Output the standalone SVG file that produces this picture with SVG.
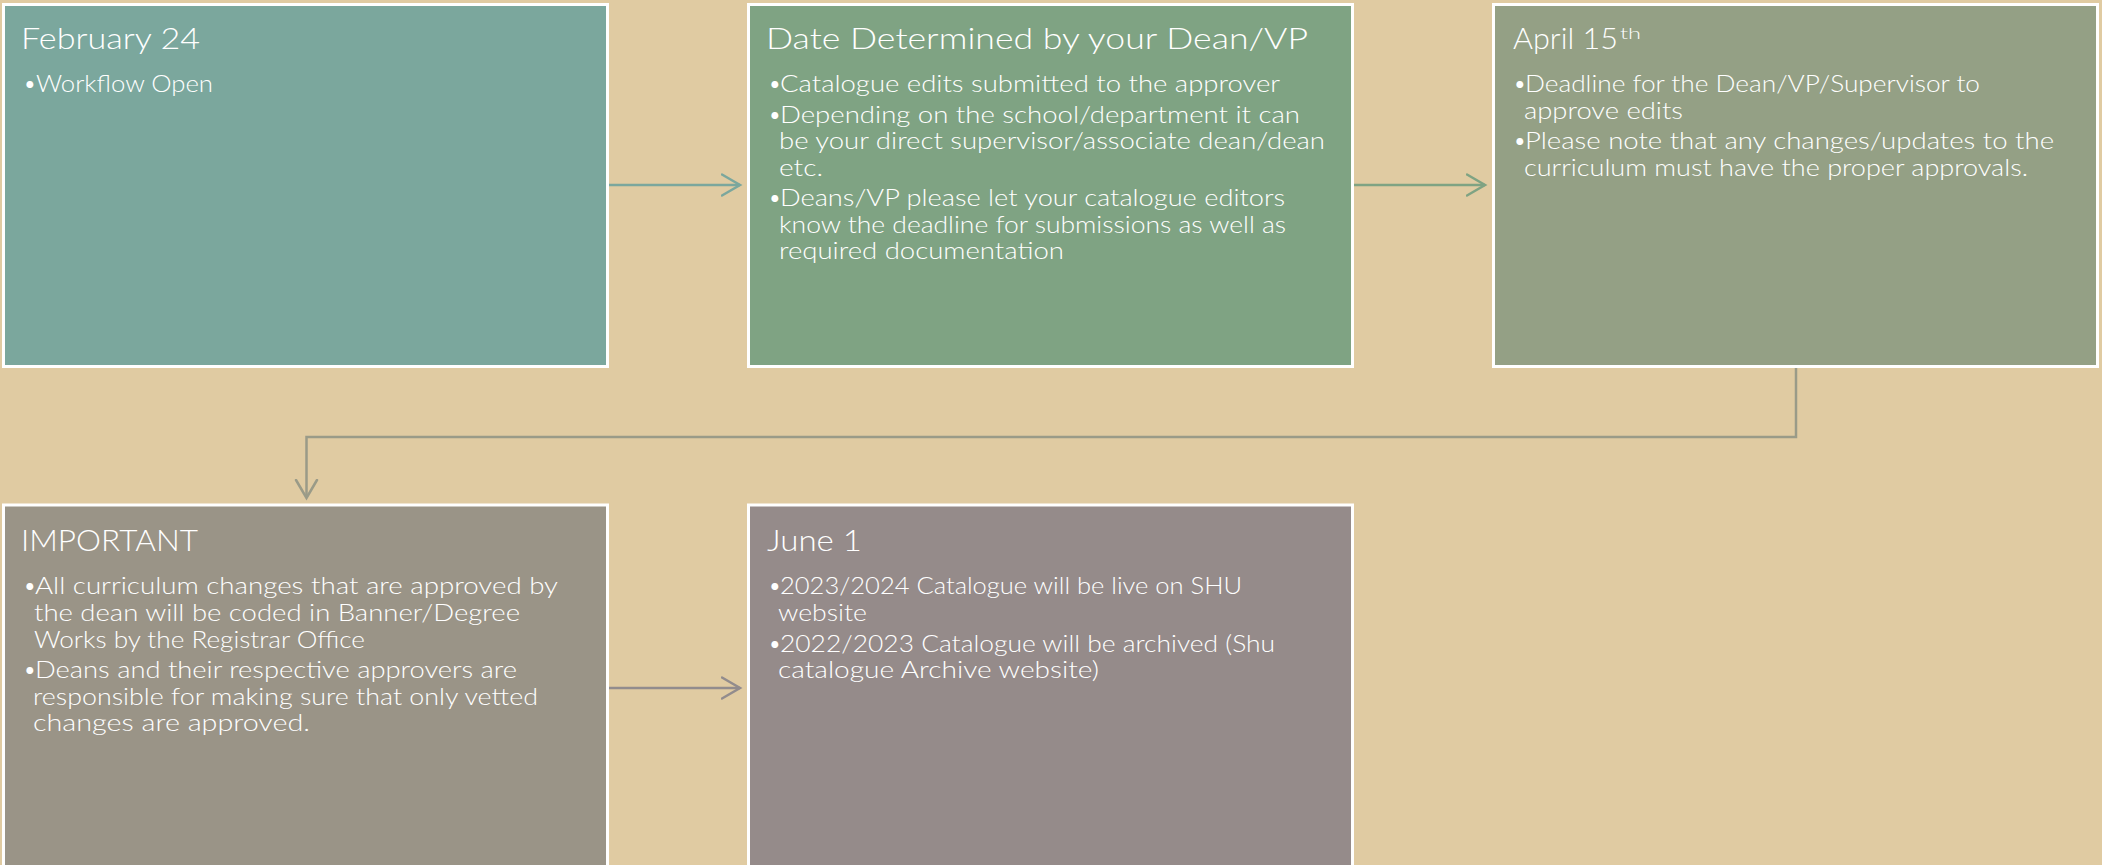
<svg xmlns="http://www.w3.org/2000/svg" width="2102" height="865" viewBox="0 0 2102 865">
<style>
.box{stroke:#ffffff;stroke-width:3}
.t{font-family:Lato,"Liberation Sans",sans-serif;font-weight:300;fill:#ffffff}
.title{font-size:29.5px}
.b{font-size:23.5px}
.c{fill:none;stroke-width:2.5}
</style>
<defs>
<marker id="m1" markerUnits="userSpaceOnUse" markerWidth="24" markerHeight="26" refX="19" refY="12" orient="auto" viewBox="0 0 24 26"><path d="M1,1.5 L19,12 L1,22.5" fill="none" stroke="#7BA79D" stroke-width="2.5" stroke-linecap="round"/></marker>
<marker id="m2" markerUnits="userSpaceOnUse" markerWidth="24" markerHeight="26" refX="19" refY="12" orient="auto" viewBox="0 0 24 26"><path d="M1,1.5 L19,12 L1,22.5" fill="none" stroke="#7FA383" stroke-width="2.5" stroke-linecap="round"/></marker>
<marker id="m3" markerUnits="userSpaceOnUse" markerWidth="24" markerHeight="26" refX="19" refY="12" orient="auto" viewBox="0 0 24 26"><path d="M1,1.5 L19,12 L1,22.5" fill="none" stroke="#9A9B88" stroke-width="2.5" stroke-linecap="round"/></marker>
<marker id="m4" markerUnits="userSpaceOnUse" markerWidth="24" markerHeight="26" refX="19" refY="12" orient="auto" viewBox="0 0 24 26"><path d="M1,1.5 L19,12 L1,22.5" fill="none" stroke="#928C8D" stroke-width="2.5" stroke-linecap="round"/></marker>
</defs>
<rect x="0" y="0" width="2102" height="865" fill="#E0CBA2"/>
<g id="connectors">
<path class="c" d="M609,185 H740" stroke="#7BA79D" marker-end="url(#m1)"/>
<path class="c" d="M1354,185 H1485" stroke="#7FA383" marker-end="url(#m2)"/>
<path class="c" d="M1796,368 V437 H306.5 V498" stroke="#9A9B88" marker-end="url(#m3)"/>
<path class="c" d="M609,688 H740" stroke="#928C8D" marker-end="url(#m4)"/>
</g>
<g id="node-feb24">
<rect class="box" x="3.5" y="4.5" width="604" height="362" fill="#7BA79D"/>
<text class="t title" x="21" y="49" textLength="179" lengthAdjust="spacingAndGlyphs">February 24</text>
<text class="t b" x="23" y="92">•</text>
<text class="t b" x="36" y="92" textLength="177" lengthAdjust="spacingAndGlyphs">Workflow Open</text>
</g>
<g id="node-dean">
<rect class="box" x="748.5" y="4.5" width="604" height="362" fill="#7FA383"/>
<text class="t title" x="766" y="49" textLength="542" lengthAdjust="spacingAndGlyphs">Date Determined by your Dean/VP</text>
<text class="t b" x="768" y="92">•</text>
<text class="t b" x="780" y="92" textLength="500" lengthAdjust="spacingAndGlyphs">Catalogue edits submitted to the approver</text>
<text class="t b" x="768" y="122.5">•</text>
<text class="t b" x="780" y="122.5" textLength="520" lengthAdjust="spacingAndGlyphs">Depending on the school/department it can</text>
<text class="t b" x="779" y="149" textLength="546" lengthAdjust="spacingAndGlyphs">be your direct supervisor/associate dean/dean</text>
<text class="t b" x="779" y="175.5" textLength="44" lengthAdjust="spacingAndGlyphs">etc.</text>
<text class="t b" x="768" y="206">•</text>
<text class="t b" x="780" y="206" textLength="505" lengthAdjust="spacingAndGlyphs">Deans/VP please let your catalogue editors</text>
<text class="t b" x="779" y="232.5" textLength="507" lengthAdjust="spacingAndGlyphs">know the deadline for submissions as well as</text>
<text class="t b" x="779" y="259" textLength="285" lengthAdjust="spacingAndGlyphs">required documentation</text>
</g>
<g id="node-april15">
<rect class="box" x="1493.5" y="4.5" width="604" height="362" fill="#94A085"/>
<text class="t title" x="1513" y="49" textLength="105" lengthAdjust="spacingAndGlyphs">April 15</text>
<text class="t" x="1620" y="39" font-size="16" textLength="21" lengthAdjust="spacingAndGlyphs">th</text>
<text class="t b" x="1513" y="92">•</text>
<text class="t b" x="1525" y="92" textLength="455" lengthAdjust="spacingAndGlyphs">Deadline for the Dean/VP/Supervisor to</text>
<text class="t b" x="1524" y="118.5" textLength="159" lengthAdjust="spacingAndGlyphs">approve edits</text>
<text class="t b" x="1513" y="149">•</text>
<text class="t b" x="1525" y="149" textLength="529" lengthAdjust="spacingAndGlyphs">Please note that any changes/updates to the</text>
<text class="t b" x="1524" y="175.5" textLength="504" lengthAdjust="spacingAndGlyphs">curriculum must have the proper approvals.</text>
</g>
<g id="node-important">
<rect class="box" x="3.5" y="505" width="604" height="362" fill="#9A9487"/>
<text class="t title" x="21" y="551" textLength="177" lengthAdjust="spacingAndGlyphs">IMPORTANT</text>
<text class="t b" x="23" y="594">•</text>
<text class="t b" x="35" y="594" textLength="523" lengthAdjust="spacingAndGlyphs">All curriculum changes that are approved by</text>
<text class="t b" x="34" y="621" textLength="486" lengthAdjust="spacingAndGlyphs">the dean will be coded in Banner/Degree</text>
<text class="t b" x="34" y="647.5" textLength="331" lengthAdjust="spacingAndGlyphs">Works by the Registrar Office</text>
<text class="t b" x="23" y="678">•</text>
<text class="t b" x="35" y="678" textLength="482" lengthAdjust="spacingAndGlyphs">Deans and their respective approvers are</text>
<text class="t b" x="33" y="704.5" textLength="505" lengthAdjust="spacingAndGlyphs">responsible for making sure that only vetted</text>
<text class="t b" x="33" y="731" textLength="277" lengthAdjust="spacingAndGlyphs">changes are approved.</text>
</g>
<g id="node-june1">
<rect class="box" x="748.5" y="505" width="604" height="362" fill="#958B8A"/>
<text class="t title" x="767" y="551" textLength="95" lengthAdjust="spacingAndGlyphs">June 1</text>
<text class="t b" x="768" y="594">•</text>
<text class="t b" x="780" y="594" textLength="462" lengthAdjust="spacingAndGlyphs">2023/2024 Catalogue will be live on SHU</text>
<text class="t b" x="778" y="620.5" textLength="89" lengthAdjust="spacingAndGlyphs">website</text>
<text class="t b" x="768" y="652">•</text>
<text class="t b" x="780" y="652" textLength="495" lengthAdjust="spacingAndGlyphs">2022/2023 Catalogue will be archived (Shu</text>
<text class="t b" x="778" y="678" textLength="321" lengthAdjust="spacingAndGlyphs">catalogue Archive website)</text>
</g>
</svg>
